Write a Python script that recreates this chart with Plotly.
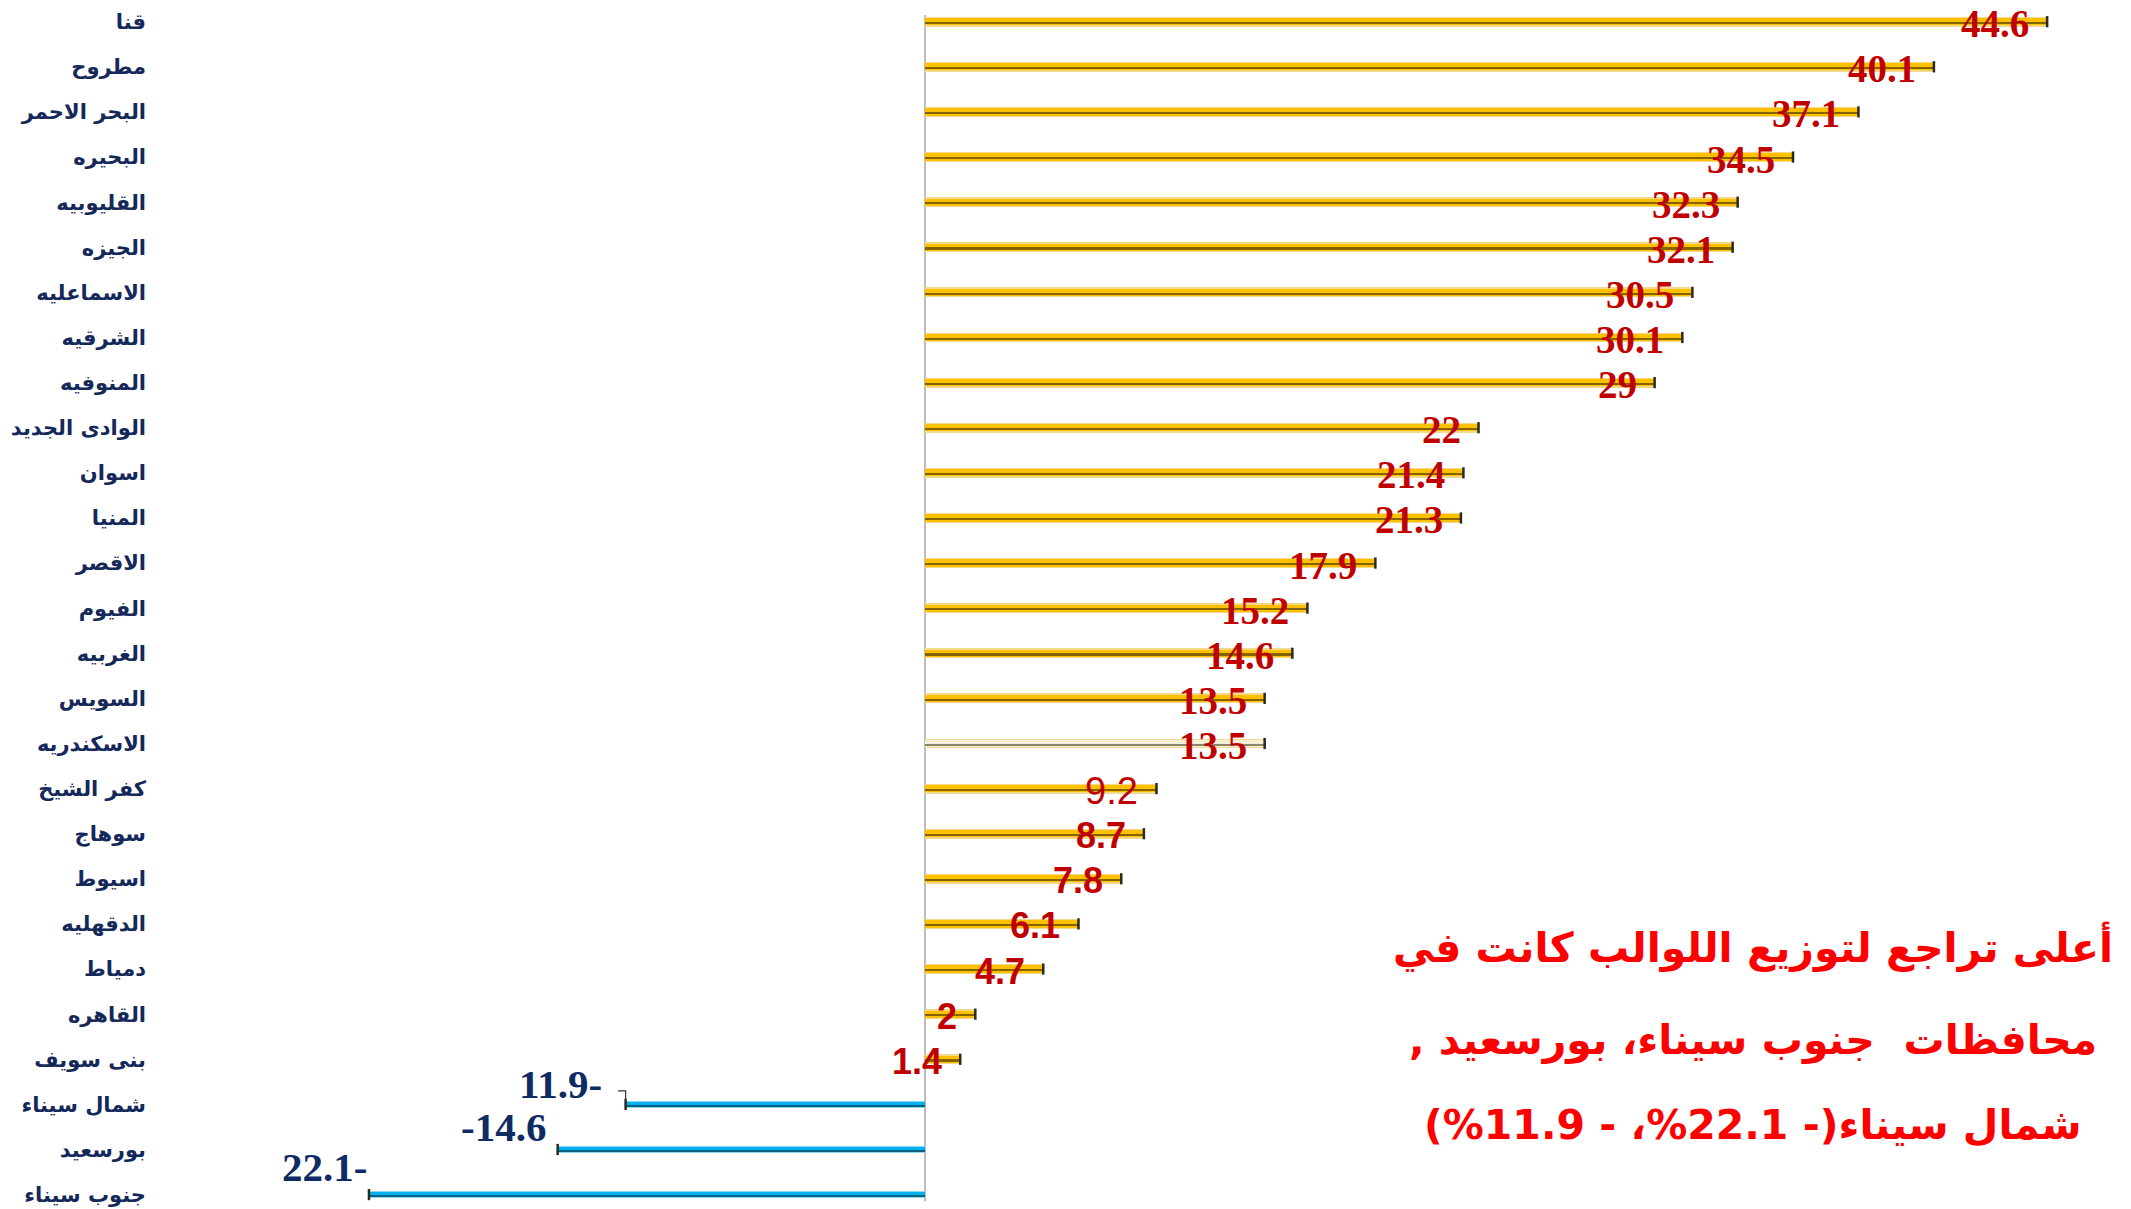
import plotly.graph_objects as go

categories = ["قنا", "مطروح", "البحر الاحمر", "البحيره", "القليوبيه", "الجيزه", "الاسماعليه",
              "الشرقيه", "المنوفيه", "الوادى الجديد", "اسوان", "المنيا", "الاقصر", "الفيوم",
              "الغربيه", "السويس", "الاسكندريه", "كفر الشيخ", "سوهاج", "اسيوط", "الدقهليه",
              "دمياط", "القاهره", "بنى سويف", "شمال سيناء", "بورسعيد", "جنوب سيناء"]
values = [44.6, 40.1, 37.1, 34.5, 32.3, 32.1, 30.5, 30.1, 29, 22, 21.4, 21.3, 17.9, 15.2,
          14.6, 13.5, 13.5, 9.2, 8.7, 7.8, 6.1, 4.7, 2, 1.4, -11.9, -14.6, -22.1]
value_labels = ["44.6", "40.1", "37.1", "34.5", "32.3", "32.1", "30.5", "30.1", "29", "22",
                "21.4", "21.3", "17.9", "15.2", "14.6", "13.5", "13.5", "9.2", "8.7", "7.8",
                "6.1", "4.7", "2", "1.4", "11.9-", "-14.6", "22.1-"]
note_lines = ["أعلى تراجع لتوزيع اللوالب كانت في",
              "محافظات  جنوب سيناء، بورسعيد ,",
              "شمال سيناء(- 22.1%، - 11.9%)"]

RLE, PDF = "\u202B", "\u202C"

n = len(categories)
pos_idx = [i for i, v in enumerate(values) if v >= 0]
neg_idx = [i for i, v in enumerate(values) if v < 0]

OFF = 8  # page body margin
W, H = 2131 - OFF, 1209 - OFF
ML = 152
zero_px = 925 - OFF
px_per_unit = 25.16
x_lo = (ML - zero_px) / px_per_unit
x_hi = (W - zero_px) / px_per_unit
top_px, bot_px = 21.7 - OFF, 1194.6 - OFF
step_px = (bot_px - top_px) / (n - 1)
y_top = (0 - top_px) / step_px
y_bot = (H - top_px) / step_px

fig = go.Figure()

def layered(idx, edge, mid, dark, special=None, w_edge=0.22, w_mid=0.16, w_dark=0.045):
    xs = [values[i] for i in idx]
    ys = [categories[i] for i in idx]
    mids = [mid] * len(idx)
    darks = [dark] * len(idx)
    if special is not None:
        for k, i in enumerate(idx):
            if categories[i] == special:
                mids[k] = "#F4EFD8"
                darks[k] = "#8C8468"
    fig.add_trace(go.Bar(x=xs, y=ys, orientation="h", width=w_edge, marker=dict(color=edge, line_width=0),
                         hoverinfo="skip", showlegend=False))
    fig.add_trace(go.Bar(x=xs, y=ys, orientation="h", width=w_mid, marker=dict(color=mids, line_width=0),
                         hoverinfo="skip", showlegend=False))
    fig.add_trace(go.Bar(x=xs, y=ys, orientation="h", width=w_dark, offset=0.005,
                         marker=dict(color=darks, line_width=0), hoverinfo="skip", showlegend=False))
    fig.add_trace(go.Scatter(x=xs, y=ys, mode="markers", hoverinfo="skip", showlegend=False,
                             marker=dict(symbol="line-ns", size=8, line=dict(width=2.5, color="#2a2a1a"))))

layered(pos_idx, "#F3D98A", "#FFC000", "#846400", special="الاسكندريه")
layered(neg_idx, "#8ADAF5", "#00B0F0", "#0B5F80", w_edge=0.17, w_mid=0.12)

# zero line
fig.add_shape(type="line", xref="x", yref="y", x0=0, x1=0, y0=-0.15, y1=n - 1 + 0.15,
              line=dict(color="#9a9a9a", width=1.3), layer="below")

# value labels
for i, (v, t) in enumerate(zip(values, value_labels)):
    if v >= 0:
        if v >= 10:
            fnt = dict(family="Liberation Serif", size=39, color="#C00000", weight="bold")
        elif v >= 9:
            fnt = dict(family="Liberation Sans", size=38, color="#C00000")
        else:
            fnt = dict(family="Liberation Sans", size=36, color="#C00000", weight="bold")
        fig.add_annotation(x=v, y=categories[i], xref="x", yref="y", text=t, showarrow=False,
                           xanchor="right", yanchor="middle", xshift=-16, yshift=-2, font=fnt)
    else:
        fnt = dict(family="Liberation Serif", size=41, color="#0E2B63", weight="bold")
        fig.add_annotation(x=v, y=categories[i], xref="x", yref="y", text=t, showarrow=False,
                           xanchor="right", yanchor="middle", font=fnt,
                           xshift={-11.9: -22, -14.6: -10, -22.1: 0}.get(v, 0),
                           yshift={-11.9: 20, -14.6: 22, -22.1: 28}.get(v, 22))

# leader line for شمال سيناء label
k = categories.index("شمال سيناء")
v = values[k]
fig.add_shape(type="path", xref="x", yref="y",
              path=f"M {v},{k - 0.05} L {v},{k - 0.3} L {v - 0.3},{k - 0.3}",
              line=dict(color="#333333", width=1.2))

# note text
line_y = [947 - OFF, 1040 - OFF, 1125 - OFF]
for t, yp in zip(note_lines, line_y):
    fig.add_annotation(xref="paper", yref="paper", x=(1753 - OFF - ML) / (W - ML), y=1 - yp / H,
                       text=RLE + t + PDF, showarrow=False, xanchor="center", yanchor="middle",
                       font=dict(family="DejaVu Sans", size=41, color="#FF0000", weight="bold"))

fig.update_layout(
    width=W, height=H, barmode="overlay", bargap=0,
    margin=dict(l=ML, r=0, t=0, b=0, autoexpand=False),
    plot_bgcolor="white", paper_bgcolor="white",
    xaxis=dict(range=[x_lo, x_hi], showgrid=False, zeroline=False, showticklabels=False,
               showline=False, fixedrange=True, automargin=False),
    yaxis=dict(type="category", categoryorder="array", categoryarray=categories,
               range=[y_bot, y_top], showgrid=False, zeroline=False, showline=False, ticks="",
               automargin=False,
               tickfont=dict(family="DejaVu Sans", size=21, color="#14285A", weight="bold"),
               ticklabelstandoff=13),
)

fig.write_html("out.html")
